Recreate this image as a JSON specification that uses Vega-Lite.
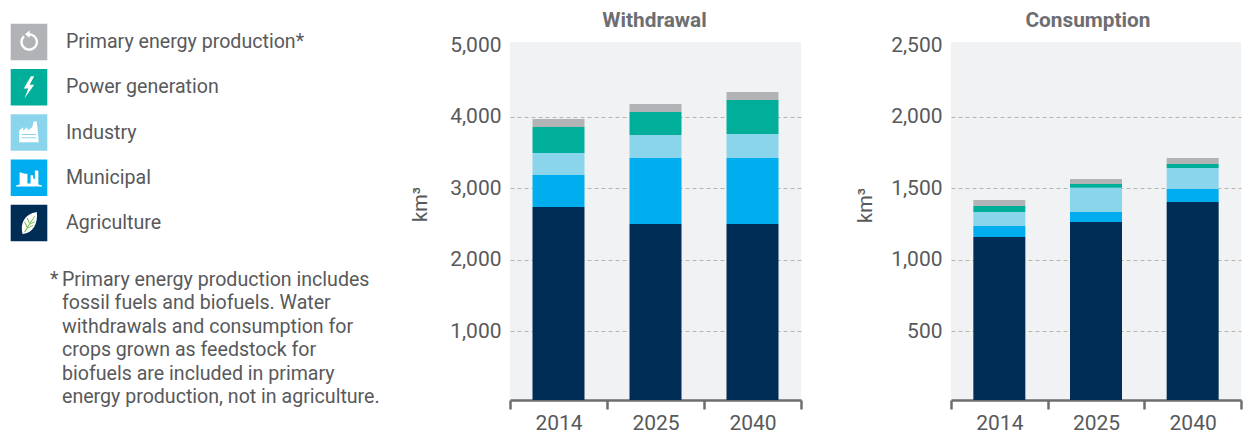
{
"$schema":"https://vega.github.io/schema/vega-lite/v6.json",
"padding":{"left":0,"top":10,"right":0,"bottom":31},
"background":"#ffffff",
"bounds":"flush",
"spacing":150,
"config":{"font":"Roboto","view":{"stroke":null}},
"datasets":{
"water":[
{"use":"Withdrawal","year":"2014","series":"Agriculture","rank":1,"value":2739},
{"use":"Withdrawal","year":"2014","series":"Municipal","rank":2,"value":447},
{"use":"Withdrawal","year":"2014","series":"Industry","rank":3,"value":307},
{"use":"Withdrawal","year":"2014","series":"Power generation","rank":4,"value":363},
{"use":"Withdrawal","year":"2014","series":"Primary energy production*","rank":5,"value":112},
{"use":"Withdrawal","year":"2025","series":"Agriculture","rank":1,"value":2501},
{"use":"Withdrawal","year":"2025","series":"Municipal","rank":2,"value":922},
{"use":"Withdrawal","year":"2025","series":"Industry","rank":3,"value":322},
{"use":"Withdrawal","year":"2025","series":"Power generation","rank":4,"value":321},
{"use":"Withdrawal","year":"2025","series":"Primary energy production*","rank":5,"value":112},
{"use":"Withdrawal","year":"2040","series":"Agriculture","rank":1,"value":2501},
{"use":"Withdrawal","year":"2040","series":"Municipal","rank":2,"value":922},
{"use":"Withdrawal","year":"2040","series":"Industry","rank":3,"value":335},
{"use":"Withdrawal","year":"2040","series":"Power generation","rank":4,"value":475},
{"use":"Withdrawal","year":"2040","series":"Primary energy production*","rank":5,"value":112},
{"use":"Consumption","year":"2014","series":"Agriculture","rank":1,"value":1159},
{"use":"Consumption","year":"2014","series":"Municipal","rank":2,"value":77},
{"use":"Consumption","year":"2014","series":"Industry","rank":3,"value":97},
{"use":"Consumption","year":"2014","series":"Power generation","rank":4,"value":42},
{"use":"Consumption","year":"2014","series":"Primary energy production*","rank":5,"value":42},
{"use":"Consumption","year":"2025","series":"Agriculture","rank":1,"value":1263},
{"use":"Consumption","year":"2025","series":"Municipal","rank":2,"value":70},
{"use":"Consumption","year":"2025","series":"Industry","rank":3,"value":170},
{"use":"Consumption","year":"2025","series":"Power generation","rank":4,"value":26},
{"use":"Consumption","year":"2025","series":"Primary energy production*","rank":5,"value":35},
{"use":"Consumption","year":"2040","series":"Agriculture","rank":1,"value":1403},
{"use":"Consumption","year":"2040","series":"Municipal","rank":2,"value":91},
{"use":"Consumption","year":"2040","series":"Industry","rank":3,"value":147},
{"use":"Consumption","year":"2040","series":"Power generation","rank":4,"value":28},
{"use":"Consumption","year":"2040","series":"Primary energy production*","rank":5,"value":42}
],
"key":[{"series":"Primary energy production*"},{"series":"Power generation"},{"series":"Industry"},{"series":"Municipal"},{"series":"Agriculture"}],
"note":[{"line":"Primary energy production includes"},{"line":"fossil fuels and biofuels. Water"},{"line":"withdrawals and consumption for"},{"line":"crops grown as feedstock for"},{"line":"biofuels are included in primary"},{"line":"energy production, not in agriculture."}]
},
"hconcat":[
{
"width":360,"height":358,
"resolve":{"scale":{"y":"independent"}},
"layer":[
{"data":{"name":"key"},"mark":{"type":"point","shape":"square","filled":true,"opacity":1,"size":1340},
"encoding":{"x":{"datum":29,"type":"quantitative","scale":{"domain":[0,360]},"axis":null},
"y":{"field":"series","type":"ordinal","axis":null,"scale":{"type":"point","padding":0,"domain":["Primary energy production*","Power generation","Industry","Municipal","Agriculture"],"range":[0,181]}},
"color":{"field":"series","type":"nominal","legend":null,"scale":{"domain":["Primary energy production*","Power generation","Industry","Municipal","Agriculture"],"range":["#b1b3b6","#00ae9a","#8bd5ec","#00adef","#002d56"]}}}},
{"data":{"name":"key"},"mark":{"type":"point","filled":true,"opacity":1,"color":"#ffffff","size":676},
"encoding":{"x":{"datum":29,"type":"quantitative","scale":{"domain":[0,360]},"axis":null},
"y":{"field":"series","type":"ordinal","axis":null,"scale":{"type":"point","padding":0,"domain":["Primary energy production*","Power generation","Industry","Municipal","Agriculture"],"range":[0,181]}},
"shape":{"field":"series","type":"nominal","legend":null,"scale":{"domain":["Primary energy production*","Power generation","Industry","Municipal","Agriculture"],"range":[
"M0.05 -0.68 A0.68 0.68 0 1 1 -0.45 -0.5 L-0.32 -0.37 A0.5 0.5 0 1 0 0.05 -0.5 Z M0.05 -0.9 L0.05 -0.3 L-0.3 -0.6 Z",
"M0.15 -0.85 L-0.4 0.1 L-0.05 0.1 L-0.35 0.85 L0.4 -0.2 L0.05 -0.2 L0.4 -0.85 Z",
"M-0.75 0.75 L-0.75 -0.15 L-0.45 -0.4 L-0.45 -0.15 L-0.1 -0.4 L-0.1 -0.15 L0.25 -0.4 L0.35 -0.85 L0.6 -0.85 L0.75 0.75 Z M-0.55 0.12 L-0.55 0.2 L0.55 0.2 L0.55 0.12 Z M-0.55 0.36 L-0.55 0.44 L0.55 0.44 L0.55 0.36 Z",
"M-1 0.6 L-0.72 0.52 L-0.72 -0.42 L-0.3 -0.3 L-0.12 -0.3 L-0.12 0.45 L0.12 0.45 L0.12 -0.2 L0.3 -0.2 L0.35 0.1 L0.45 0.1 L0.45 -0.55 L0.72 -0.55 L0.72 0.52 L1 0.6 L1 0.68 L-1 0.68 Z",
"M0.6 -0.85 C-0.35 -0.7 -0.7 0 -0.5 0.85 C0.35 0.75 0.7 0 0.6 -0.85 Z"
]}}}},
{"data":{"values":[{"series":"Agriculture"}]},"mark":{"type":"point","filled":true,"opacity":1,"color":"#6cb33f","size":676,"shape":"M0.42 -0.55 L-0.38 0.7 L-0.3 0.72 L0.46 -0.52 Z M-0.18 0.32 L-0.38 -0.08 L-0.32 -0.1 L-0.12 0.26 Z M0 0.02 L-0.18 -0.38 L-0.12 -0.4 L0.06 -0.06 Z M-0.1 0.42 L0.34 0.2 L0.32 0.14 L-0.06 0.34 Z M0.08 0.12 L0.46 -0.08 L0.44 -0.14 L0.12 0.04 Z"},
"encoding":{"x":{"datum":29,"type":"quantitative","scale":{"domain":[0,360]},"axis":null},
"y":{"field":"series","type":"ordinal","axis":null,"scale":{"type":"point","padding":0,"domain":["Primary energy production*","Power generation","Industry","Municipal","Agriculture"],"range":[0,181]}}}},
{"data":{"name":"key"},"mark":{"type":"text","align":"left","baseline":"middle","fontSize":19.6,"color":"#58595b"},
"encoding":{"x":{"datum":66,"type":"quantitative","scale":{"domain":[0,360]},"axis":null},
"y":{"field":"series","type":"ordinal","axis":null,"scale":{"type":"point","padding":0,"domain":["Primary energy production*","Power generation","Industry","Municipal","Agriculture"],"range":[0,181]}},
"text":{"field":"series"}}},
{"data":{"name":"note"},"mark":{"type":"text","align":"left","baseline":"middle","fontSize":19.6,"color":"#58595b"},
"encoding":{"x":{"datum":62,"type":"quantitative","scale":{"domain":[0,360]},"axis":null},
"y":{"field":"line","type":"ordinal","axis":null,"scale":{"type":"point","padding":0,"domain":["Primary energy production includes","fossil fuels and biofuels. Water","withdrawals and consumption for","crops grown as feedstock for","biofuels are included in primary","energy production, not in agriculture."],"range":[238,355]}},
"text":{"field":"line"}}},
{"data":{"values":[{"line":"Primary energy production includes"}]},"mark":{"type":"text","align":"left","baseline":"middle","fontSize":19.6,"color":"#58595b","text":"*"},
"encoding":{"x":{"datum":50,"type":"quantitative","scale":{"domain":[0,360]},"axis":null},
"y":{"field":"line","type":"ordinal","axis":null,"scale":{"type":"point","padding":0,"domain":["Primary energy production includes","fossil fuels and biofuels. Water","withdrawals and consumption for","crops grown as feedstock for","biofuels are included in primary","energy production, not in agriculture."],"range":[238,355]}}}}
]
},
{
"width":291,"height":358,
"view":{"fill":"#f1f2f4","stroke":null},
"title":{"text":"Withdrawal","fontSize":20.8,"fontWeight":"bold","color":"#6d6e71","anchor":"middle","offset":2,"dx":-1},
"data":{"name":"water"},
"transform":[{"filter":"datum.use === 'Withdrawal'"}],
"mark":{"type":"bar","size":52,"clip":true},
"encoding":{
"x":{"field":"year","type":"ordinal","title":null,"scale":{"paddingInner":0,"paddingOuter":0},
"axis":{"labelAngle":0,"labelFontSize":21,"labelColor":"#58595b","tickBand":"extent","domainColor":"#6d6e71","domainWidth":2.5,"tickColor":"#6d6e71","tickWidth":2.5,"tickSize":9,"labelPadding":3}},
"y":{"field":"value","type":"quantitative","stack":"zero","title":"km³","scale":{"domain":[43,5043],"nice":false,"zero":false},
"axis":{"values":[1000,2000,3000,4000,5000],"format":",.0f","domain":false,"ticks":false,"labelFontSize":21,"labelColor":"#58595b","labelPadding":9,"titleFontSize":20,"titleFontWeight":"normal","titleColor":"#58595b","titleX":-80,"titleY":162,
"grid":true,"gridColor":"#b5b5b5","gridDash":[4,3],"gridOpacity":{"condition":{"test":"datum.value === 5000","value":0},"value":1}}},
"color":{"field":"series","type":"nominal","legend":null,"scale":{"domain":["Primary energy production*","Power generation","Industry","Municipal","Agriculture"],"range":["#b1b3b6","#00ae9a","#8bd5ec","#00adef","#002d56"]}},
"order":{"field":"rank","type":"quantitative"}
}
},
{
"width":290,"height":358,
"view":{"fill":"#f1f2f4","stroke":null},
"title":{"text":"Consumption","fontSize":20.8,"fontWeight":"bold","color":"#6d6e71","anchor":"middle","offset":2,"dx":-8},
"data":{"name":"water"},
"transform":[{"filter":"datum.use === 'Consumption'"}],
"mark":{"type":"bar","size":52,"clip":true},
"encoding":{
"x":{"field":"year","type":"ordinal","title":null,"scale":{"paddingInner":0,"paddingOuter":0},
"axis":{"labelAngle":0,"labelFontSize":21,"labelColor":"#58595b","tickBand":"extent","domainColor":"#6d6e71","domainWidth":2.5,"tickColor":"#6d6e71","tickWidth":2.5,"tickSize":9,"labelPadding":3}},
"y":{"field":"value","type":"quantitative","stack":"zero","title":"km³","scale":{"domain":[20,2521],"nice":false,"zero":false},
"axis":{"values":[500,1000,1500,2000,2500],"format":",.0f","domain":false,"ticks":false,"labelFontSize":21,"labelColor":"#58595b","labelPadding":9,"titleFontSize":20,"titleFontWeight":"normal","titleColor":"#58595b","titleX":-76,"titleY":163,
"grid":true,"gridColor":"#b5b5b5","gridDash":[4,3],"gridOpacity":{"condition":{"test":"datum.value === 2500","value":0},"value":1}}},
"color":{"field":"series","type":"nominal","legend":null,"scale":{"domain":["Primary energy production*","Power generation","Industry","Municipal","Agriculture"],"range":["#b1b3b6","#00ae9a","#8bd5ec","#00adef","#002d56"]}},
"order":{"field":"rank","type":"quantitative"}
}
}
]
}
